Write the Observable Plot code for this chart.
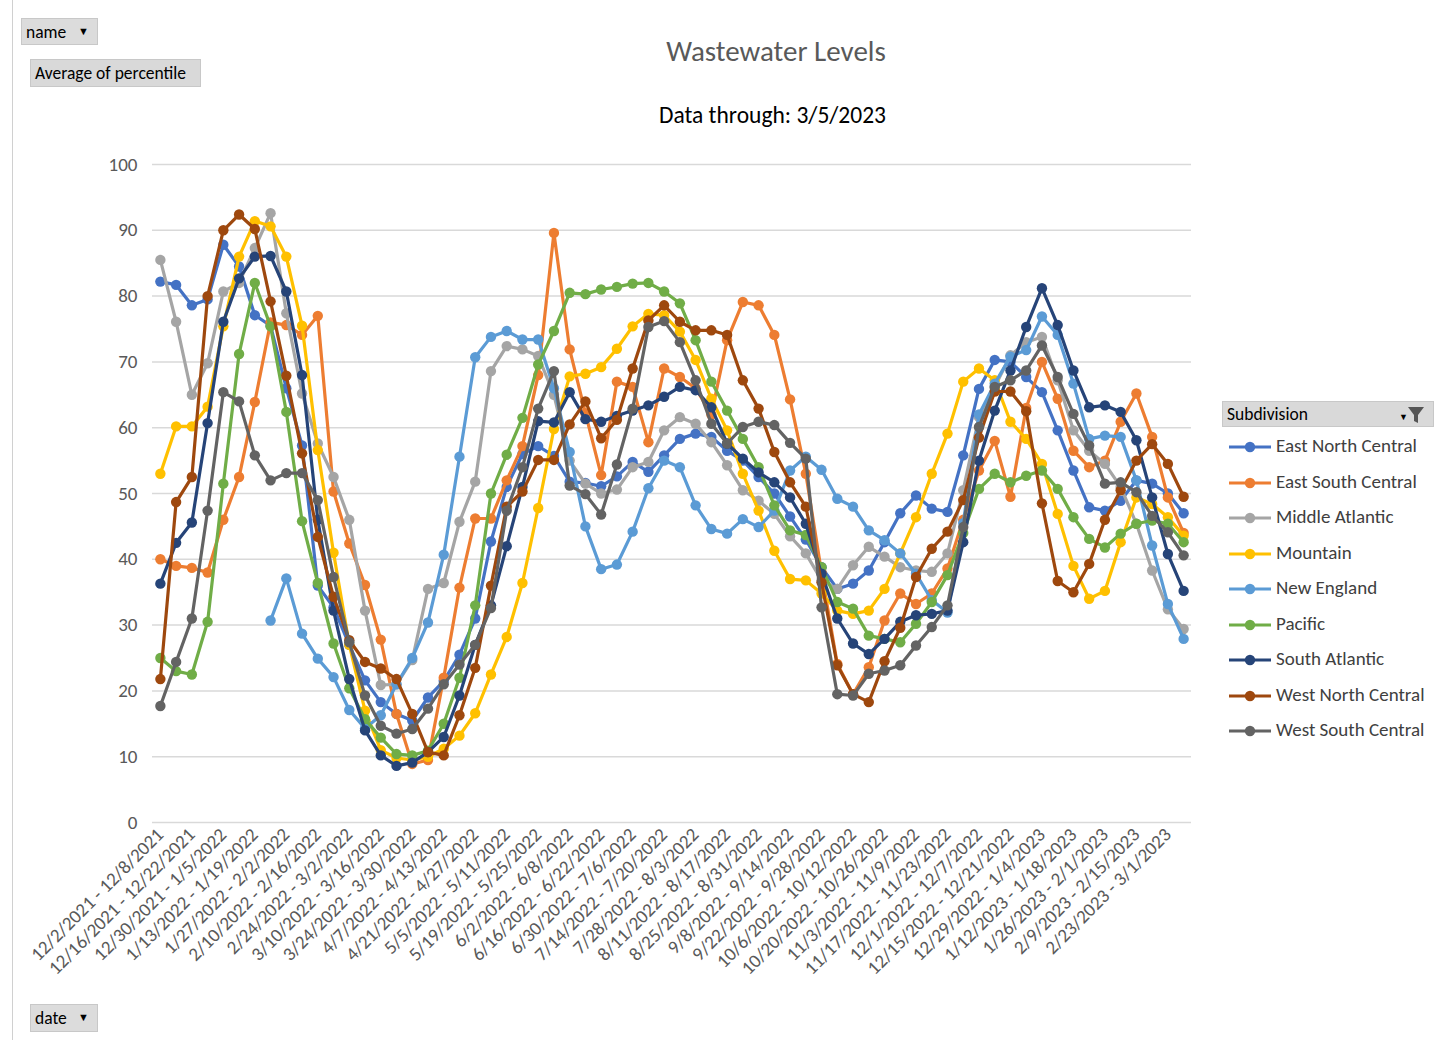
<!DOCTYPE html>
<html>
<head>
<meta charset="utf-8">
<script src="https://cdn.jsdelivr.net/npm/d3@7"></script>
<script src="https://cdn.jsdelivr.net/npm/@observablehq/plot@0.6"></script>
<style>
  html, body { margin: 0; padding: 0; background: #ffffff; }
  body { font-family: Calibri, Carlito, "Liberation Sans", Arial, sans-serif; }
  #page { position: relative; width: 1442px; height: 1040px; overflow: hidden; background: #fff; }
  #leftrule { position: absolute; left: 12px; top: 0; width: 1px; height: 1040px; background: #d0d0d0; }
  #chart { position: absolute; left: 0; top: 0; }
  .btn { position: absolute; background: #dcdcdc; border: 1px solid #c8c8c8; font-size: 17.5px; color: #000; box-sizing: border-box; line-height: 26px; padding-left: 4px; white-space: nowrap; }
  .btn .arr { position: absolute; right: 8px; top: 0; font-size: 11px; }
  #title { position: absolute; left: 0; width: 1552px; top: 33px; text-align: center; font-size: 29px; color: #595959; }
  #subtitle { position: absolute; left: 0; width: 1545px; top: 101px; text-align: center; font-size: 23.5px; color: #000; }
  #legend { position: absolute; left: 1222px; top: 401px; width: 212px; }
  #legend .head { height: 26px; background: #d9d9d9; border: 1px solid #c8c8c8; box-sizing: border-box; font-size: 17.5px; line-height: 25px; padding-left: 4px; color: #000; position: relative; }
  #legend .item { position: absolute; left: 5px; height: 20px; font-size: 19px; color: #404040; white-space: nowrap; }
  #legend .item svg { position: absolute; left: 0; top: 0; }
  #legend .item span { position: absolute; left: 49px; top: -1px; line-height: 20px; }
</style>
</head>
<body>
<div id="page">
  <div id="leftrule"></div>
  <div id="chart"></div>
  <div class="btn" style="left:21px;top:18px;width:77px;height:27px;">name<span class="arr">&#9660;</span></div>
  <div class="btn" style="left:30px;top:59px;width:171px;height:28px;background:#d9d9d9;">Average of percentile</div>
  <div class="btn" style="left:30px;top:1004px;width:68px;height:28px;">date<span class="arr">&#9660;</span></div>
  <div id="title">Wastewater Levels</div>
  <div id="subtitle">Data through: 3/5/2023</div>
  <div id="legend"></div>
</div>
<script>
// ---------------- DATA ----------------
const categories = [
  "12/2/2021 - 12/8/2021", "12/9/2021 - 12/15/2021", "12/16/2021 - 12/22/2021", "12/23/2021 - 12/29/2021",
  "12/30/2021 - 1/5/2022", "1/6/2022 - 1/12/2022", "1/13/2022 - 1/19/2022", "1/20/2022 - 1/26/2022",
  "1/27/2022 - 2/2/2022", "2/3/2022 - 2/9/2022", "2/10/2022 - 2/16/2022", "2/17/2022 - 2/23/2022",
  "2/24/2022 - 3/2/2022", "3/3/2022 - 3/9/2022", "3/10/2022 - 3/16/2022", "3/17/2022 - 3/23/2022",
  "3/24/2022 - 3/30/2022", "3/31/2022 - 4/6/2022", "4/7/2022 - 4/13/2022", "4/14/2022 - 4/20/2022",
  "4/21/2022 - 4/27/2022", "4/28/2022 - 5/4/2022", "5/5/2022 - 5/11/2022", "5/12/2022 - 5/18/2022",
  "5/19/2022 - 5/25/2022", "5/26/2022 - 6/1/2022", "6/2/2022 - 6/8/2022", "6/9/2022 - 6/15/2022",
  "6/16/2022 - 6/22/2022", "6/23/2022 - 6/29/2022", "6/30/2022 - 7/6/2022", "7/7/2022 - 7/13/2022",
  "7/14/2022 - 7/20/2022", "7/21/2022 - 7/27/2022", "7/28/2022 - 8/3/2022", "8/4/2022 - 8/10/2022",
  "8/11/2022 - 8/17/2022", "8/18/2022 - 8/24/2022", "8/25/2022 - 8/31/2022", "9/1/2022 - 9/7/2022",
  "9/8/2022 - 9/14/2022", "9/15/2022 - 9/21/2022", "9/22/2022 - 9/28/2022", "9/29/2022 - 10/5/2022",
  "10/6/2022 - 10/12/2022", "10/13/2022 - 10/19/2022", "10/20/2022 - 10/26/2022", "10/27/2022 - 11/2/2022",
  "11/3/2022 - 11/9/2022", "11/10/2022 - 11/16/2022", "11/17/2022 - 11/23/2022", "11/24/2022 - 11/30/2022",
  "12/1/2022 - 12/7/2022", "12/8/2022 - 12/14/2022", "12/15/2022 - 12/21/2022", "12/22/2022 - 12/28/2022",
  "12/29/2022 - 1/4/2023", "1/5/2023 - 1/11/2023", "1/12/2023 - 1/18/2023", "1/19/2023 - 1/25/2023",
  "1/26/2023 - 2/1/2023", "2/2/2023 - 2/8/2023", "2/9/2023 - 2/15/2023", "2/16/2023 - 2/22/2023",
  "2/23/2023 - 3/1/2023", "3/2/2023 - 3/8/2023"
];

const yTicks = [0, 10, 20, 30, 40, 50, 60, 70, 80, 90, 100];

const seriesNames = [
  "East North Central", "East South Central", "Middle Atlantic", "Mountain", "New England",
  "Pacific", "South Atlantic", "West North Central", "West South Central"
];
const seriesColors = [
  "#4472C4", "#ED7D31", "#A5A5A5", "#FFC000", "#5B9BD5",
  "#70AD47", "#264478", "#9E480E", "#636363"
];

const eastNorthCentral = [82.2, 81.7, 78.6, 79.5, 87.8, 84.5, 77.1, 75.5, 66, 57.3, 36, 32.7, 27, 21.6, 18.3, 16.5, 15.5, 19, 21.5, 25.5, 31, 42.7, 51, 56, 57.2, 55.7, 51.8, 51.6, 51.1, 52.6, 54.8, 53.3, 55.8, 58.3, 59.1, 58.6, 56.5, 55, 52.5, 50, 46.5, 43, 38.8, 35.5, 36.3, 38.3, 42.6, 47, 49.7, 47.7, 47.2, 55.8, 65.9, 70.3, 70, 67.7, 65.4, 59.6, 53.5, 47.9, 47.4, 48.9, 52, 51.5, 50, 47];
const eastSouthCentral = [40, 39, 38.7, 38, 46, 52.5, 63.9, 76, 75.6, 74.1, 77, 50.3, 42.4, 36.1, 27.8, 16.5, 8.9, 9.5, 22, 35.7, 46.2, 46.2, 52, 57.2, 68, 89.6, 71.9, 62.2, 52.8, 67, 66.2, 57.8, 69, 67.7, 66, 62, 73.3, 79.1, 78.6, 74.1, 64.3, 53, 38, 24.1, 19.5, 23.6, 30.7, 34.8, 33.2, 34.8, 38.6, 46, 53.5, 58, 49.5, 63, 70, 64.4, 56.5, 54, 55, 60.9, 65.2, 58.6, 49.4, 44];
const middleAtlantic = [85.5, 76.1, 65, 69.8, 80.7, 82, 87.3, 92.6, 77.4, 65.2, 57.6, 52.5, 46, 32.2, 20.9, 21, 24.7, 35.5, 36.4, 45.7, 51.8, 68.6, 72.4, 71.9, 70.9, 65, 55, 51.5, 50, 50.6, 54, 54.8, 59.6, 61.6, 60.6, 57.8, 54.3, 50.5, 48.9, 46.9, 43.5, 40.9, 36.8, 35.5, 39.1, 41.9, 40.4, 38.8, 38.3, 38.1, 40.9, 50.5, 61.6, 66.2, 71, 73, 73.8, 67.2, 59.6, 56.5, 54.5, 51, 45.4, 38.3, 32.4, 29.4];
const mountain = [53, 60.2, 60.2, 63.2, 75.4, 86, 91.4, 90.6, 86, 75.5, 56.6, 41, 27, 17, 11, 9.8, 9.5, 10, 11.2, 13.2, 16.6, 22.5, 28.2, 36.4, 47.8, 59.8, 67.8, 68.2, 69.2, 72, 75.4, 77.3, 77.1, 74.6, 70.3, 64.4, 59.6, 53, 47.4, 41.3, 37, 36.8, 34.8, 32.2, 31.7, 32.2, 35.5, 40.9, 46.4, 53, 59.1, 67, 69, 67.2, 60.9, 58.3, 54.5, 46.9, 39, 34, 35.2, 42.6, 49.4, 48.4, 46.4, 43.6];
const newEngland = [null, null, null, null, null, null, null, 30.7, 37.1, 28.7, 24.9, 22.1, 17.1, 14.3, 16.3, 21, 25, 30.4, 40.7, 55.6, 70.7, 73.8, 74.7, 73.4, 73.4, 66, 56.3, 45, 38.5, 39.2, 44.2, 50.8, 55, 54, 48.2, 44.6, 43.9, 46.1, 44.9, 47.4, 53.5, 55.6, 53.6, 49.2, 48, 44.4, 42.9, 40.9, 37.8, 33.8, 31.9, 45.5, 62, 66.7, 70.8, 71.8, 76.9, 74.1, 66.7, 58.3, 58.8, 58.6, 52, 42.1, 33.2, 27.9];
const pacific = [25, 23, 22.5, 30.5, 51.5, 71.2, 82, 75.4, 62.4, 45.8, 36.4, 27.2, 20.4, 15.7, 12.9, 10.4, 10.2, 10.9, 15, 22, 33, 50, 55.9, 61.5, 69.6, 74.7, 80.5, 80.3, 81, 81.4, 81.9, 82, 80.7, 78.9, 73.3, 67, 62.6, 58.3, 54, 48.2, 44.4, 43.7, 38.8, 33.5, 32.5, 28.4, 27.9, 27.4, 30.2, 33.5, 37.6, 44, 50.7, 53, 51.7, 52.7, 53.5, 50.7, 46.4, 43.1, 41.8, 43.9, 45.4, 45.9, 45.4, 42.6];
const southAtlantic = [36.3, 42.5, 45.6, 60.7, 76.1, 82.7, 86, 86.1, 80.7, 68, 46, 32.2, 21.8, 14, 10.2, 8.6, 9.1, 10.7, 13, 19.3, 27, 33, 42, 51, 61, 60.8, 65.4, 61.3, 60.9, 61.8, 62.6, 63.4, 64.7, 66.2, 65.7, 63.1, 57.6, 55.3, 53.2, 51.7, 49.4, 45.4, 37.8, 31, 27.2, 25.6, 27.9, 30.5, 31.5, 31.7, 32.2, 42.6, 55, 62.6, 68.7, 75.3, 81.2, 75.6, 68.7, 63.1, 63.4, 62.4, 58.1, 49.4, 40.8, 35.2];
const westNorthCentral = [21.8, 48.7, 52.5, 80, 90, 92.4, 90.2, 79.2, 67.9, 56.1, 43.4, 34.3, 27.7, 24.4, 23.4, 21.8, 16.5, 10.7, 10.2, 16.3, 23.5, 36, 48, 50.3, 55.1, 55.1, 60.5, 64, 58.4, 61.2, 69, 76.3, 78.6, 76.1, 74.8, 74.8, 74.1, 67.2, 62.9, 56.3, 51.7, 48, 36.5, 23.9, 19.5, 18.3, 24.5, 29.6, 37.3, 41.6, 44.2, 49, 58.5, 65.5, 65.5, 62.5, 48.5, 36.7, 35, 39.3, 46, 50.5, 55, 57.5, 54.5, 49.5];
const westSouthCentral = [17.7, 24.4, 31, 47.4, 65.4, 64, 55.8, 52, 53.1, 53.1, 49, 37.3, 27.4, 19.3, 14.7, 13.5, 14.2, 17.3, 21, 24, 27, 32.6, 47.4, 54, 62.9, 68.6, 51.2, 49.9, 46.8, 54.4, 62.9, 75.3, 76.2, 73, 67.2, 60.6, 57.6, 60.1, 60.9, 60.4, 57.7, 55.3, 32.7, 19.5, 19.3, 22.6, 23.1, 23.9, 26.9, 29.7, 33, 44.9, 60.1, 66.2, 67.2, 68.7, 72.5, 67.7, 62.1, 57.3, 51.5, 51.7, 50.2, 46.6, 44.1, 40.6];

const seriesValues = [eastNorthCentral, eastSouthCentral, middleAtlantic, mountain, newEngland,
  pacific, southAtlantic, westNorthCentral, westSouthCentral];

// ---------------- TABLE ----------------
const tables = seriesNames.map((name, s) =>
  categories.map((cat, i) => ({ cat, series: name, value: seriesValues[s][i] }))
);

const FONT = 'Calibri, Carlito, "Liberation Sans", Arial, sans-serif';
const shownTicks = categories.filter((_, i) => i % 2 === 0);

const seriesMarks = [];
tables.forEach((rows, s) => {
  seriesMarks.push(Plot.line(rows, { x: "cat", y: "value", stroke: seriesColors[s], strokeWidth: 3.2, strokeLinejoin: "round", strokeLinecap: "round" }));
  seriesMarks.push(Plot.dot(rows, { x: "cat", y: "value", fill: seriesColors[s], r: 5.2, stroke: "none" }));
});

const chart = Plot.plot({
  width: 1442,
  height: 1040,
  marginLeft: 152,
  marginRight: 251,
  marginTop: 164,
  marginBottom: 218,
  style: { fontFamily: FONT, background: "transparent", color: "#595959", overflow: "visible" },
  x: { type: "point", domain: categories, padding: 0.5, label: null },
  y: { domain: [0, 100], label: null },
  marks: [
    Plot.gridY(yTicks, { stroke: "#d9d9d9", strokeOpacity: 1, strokeWidth: 1.5 }),
    Plot.axisY(yTicks, { tickSize: 0, tickPadding: 15, fontSize: 19, fill: "#595959", label: null }),
    Plot.axisX(shownTicks, { tickRotate: -45, tickSize: 0, tickPadding: 9, fontSize: 19, fill: "#595959", label: null }),
    ...seriesMarks
  ]
});
document.getElementById("chart").appendChild(chart);

// ---------------- LEGEND ----------------
const legend = document.getElementById("legend");
const head = document.createElement("div");
head.className = "head";
head.innerHTML = 'Subdivision<svg width="30" height="22" style="position:absolute;right:4px;top:2px">' +
  '<text x="0" y="16" font-size="9" fill="#000">&#9660;</text>' +
  '<path d="M9 3 L25 3 L19 11 L19 19 L15 17 L15 11 Z" fill="#555"/></svg>';
legend.appendChild(head);
seriesNames.forEach((name, s) => {
  const item = document.createElement("div");
  item.className = "item";
  item.style.top = (36 + s * 35.5) + "px";
  item.innerHTML = `<svg width="46" height="20"><line x1="2" y1="10" x2="44" y2="10" stroke="${seriesColors[s]}" stroke-width="3.2"/><circle cx="23" cy="10" r="5.2" fill="${seriesColors[s]}"/></svg><span>${name}</span>`;
  legend.appendChild(item);
});
</script>
</body>
</html>
